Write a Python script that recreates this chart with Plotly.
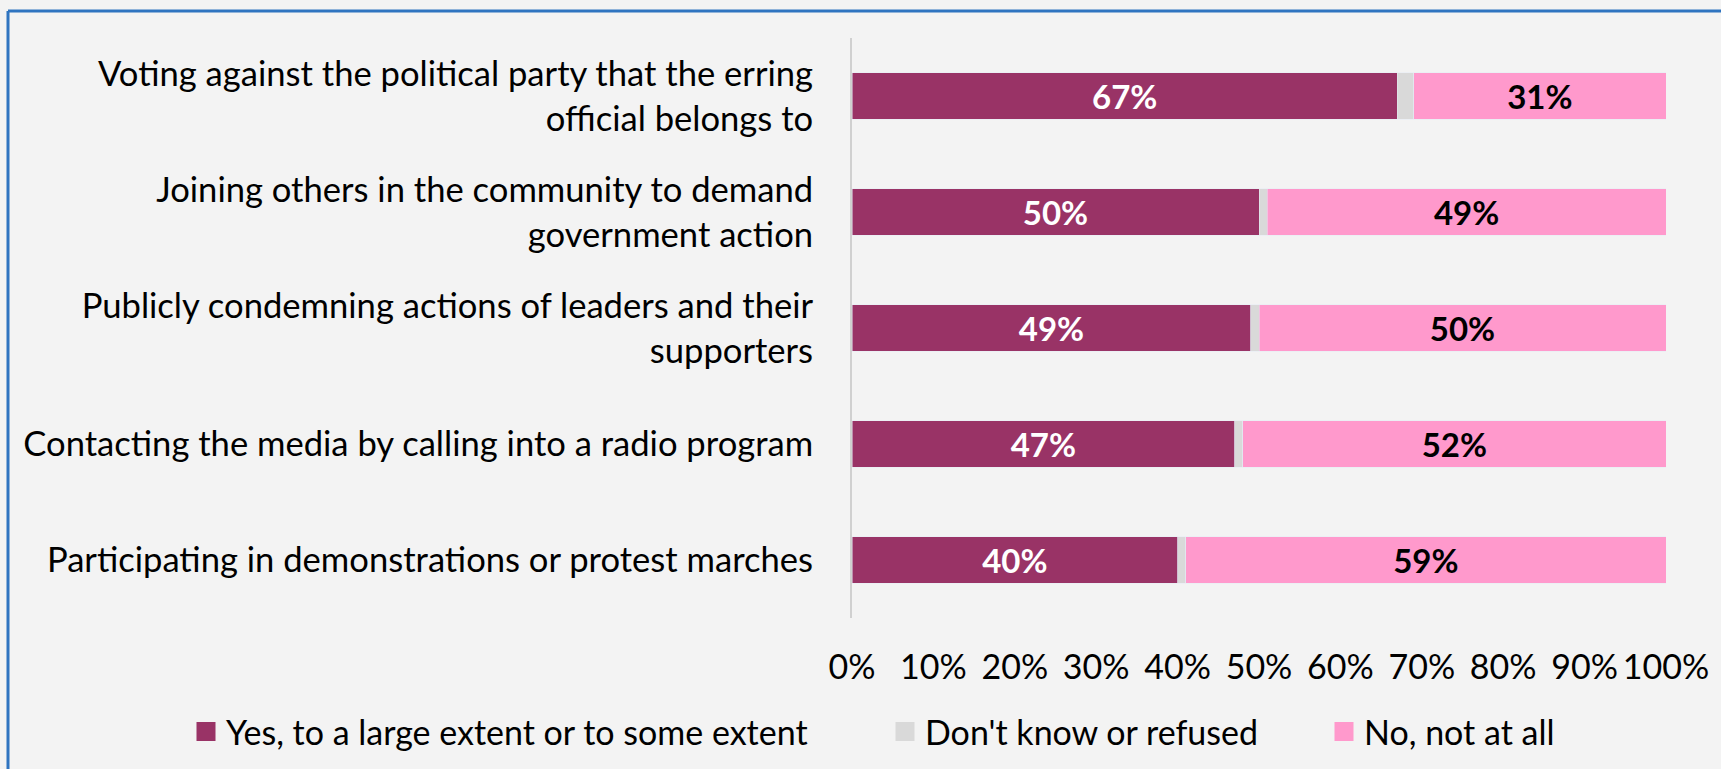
import plotly.graph_objects as go

# Survey items, top to bottom
categories = [
    "Voting against the political party that the erring<br>official belongs to",
    "Joining others in the community to demand<br>government action",
    "Publicly condemning actions of leaders and their<br>supporters",
    "Contacting the media by calling into a radio program",
    "Participating in demonstrations or protest marches",
]
yes_share = [67, 50, 49, 47, 40]
dont_know = [2, 1, 1, 1, 1]
no_share = [31, 49, 50, 52, 59]

series_names = [
    "Yes, to a large extent or to some extent",
    "Don't know or refused",
    "No, not at all",
]
colors = ["#993366", "#D9D9D9", "#FF99CC"]
tick_values = list(range(0, 101, 10))
tick_labels = [f"{v}%" for v in tick_values]

W, H = 1721, 769
PL, PR, PT, PB = 852, 1666, 38, 618  # plot area in pixels


def px_x(p):
    return (p - PL) / (PR - PL)


def px_y(p):
    return (PB - p) / (PB - PT)


FONT = "Lato"
TEXT_SIZE = 34
fig = go.Figure()

fig.add_trace(go.Bar(
    y=categories, x=yes_share, orientation="h", marker_color=colors[0],
    text=[f"{v}%" for v in yes_share], textposition="inside",
    insidetextanchor="middle", textangle=0, constraintext="none",
    textfont=dict(family=FONT, size=33, color="white", weight="bold"),
    showlegend=False, hoverinfo="skip",
))
fig.add_trace(go.Bar(
    y=categories, x=dont_know, orientation="h", marker_color=colors[1],
    showlegend=False, hoverinfo="skip",
))
fig.add_trace(go.Bar(
    y=categories, x=no_share, orientation="h", marker_color=colors[2],
    text=[f"{v}%" for v in no_share], textposition="inside",
    insidetextanchor="middle", textangle=0, constraintext="none",
    textfont=dict(family=FONT, size=33, color="black", weight="bold"),
    showlegend=False, hoverinfo="skip",
))

# Legend entries, one legend per series so each can sit at its own spot
legend_keys = ["legend", "legend2", "legend3"]
legend_text_left = [228, 927, 1366]
for name, col, key in zip(series_names, colors, legend_keys):
    fig.add_trace(go.Scatter(
        x=[None], y=[None], mode="markers", name=name, legend=key,
        marker=dict(symbol="square", size=16, color=col,
                    line=dict(color=col, width=3)),
    ))

legend_common = dict(
    orientation="h", xanchor="left", yanchor="middle", y=px_y(732),
    bgcolor="rgba(0,0,0,0)", borderwidth=0,
    font=dict(family=FONT, size=TEXT_SIZE, color="#000000"),
    itemclick=False, itemdoubleclick=False,
)
legends = {}
for key, left in zip(legend_keys, legend_text_left):
    legends[key] = dict(legend_common, x=px_x(left - 42))

fig.update_layout(
    width=W, height=H,
    margin=dict(l=PL, r=W - PR, t=PT, b=H - PB, autoexpand=False),
    barmode="stack", bargap=0.6,
    paper_bgcolor="#F3F3F3", plot_bgcolor="#F3F3F3",
    font=dict(family=FONT, color="#000000"),
    xaxis=dict(
        range=[0, 100], tickmode="array", tickvals=tick_values,
        ticktext=tick_labels,
        showgrid=False, zeroline=False, showline=False,
        tickfont=dict(family=FONT, size=TEXT_SIZE, color="#000000"),
        ticks="outside", ticklen=19, tickcolor="rgba(0,0,0,0)",
        fixedrange=True,
    ),
    yaxis=dict(
        autorange="reversed", showgrid=False, zeroline=False,
        showline=True, linecolor="#D0D0D0", linewidth=2,
        tickfont=dict(family=FONT, size=34.6, color="#000000"),
        ticks="outside", ticklen=30, tickcolor="rgba(0,0,0,0)",
        fixedrange=True,
    ),
    shapes=[
        dict(type="line", xref="paper", yref="paper",
             x0=px_x(8), x1=px_x(W + 5), y0=px_y(11), y1=px_y(11),
             line=dict(color="#2F74C0", width=3)),
        dict(type="line", xref="paper", yref="paper",
             x0=px_x(8), x1=px_x(8), y0=px_y(11), y1=px_y(H + 5),
             line=dict(color="#2F74C0", width=3)),
    ],
    **legends,
)

fig.write_html("out.html")
